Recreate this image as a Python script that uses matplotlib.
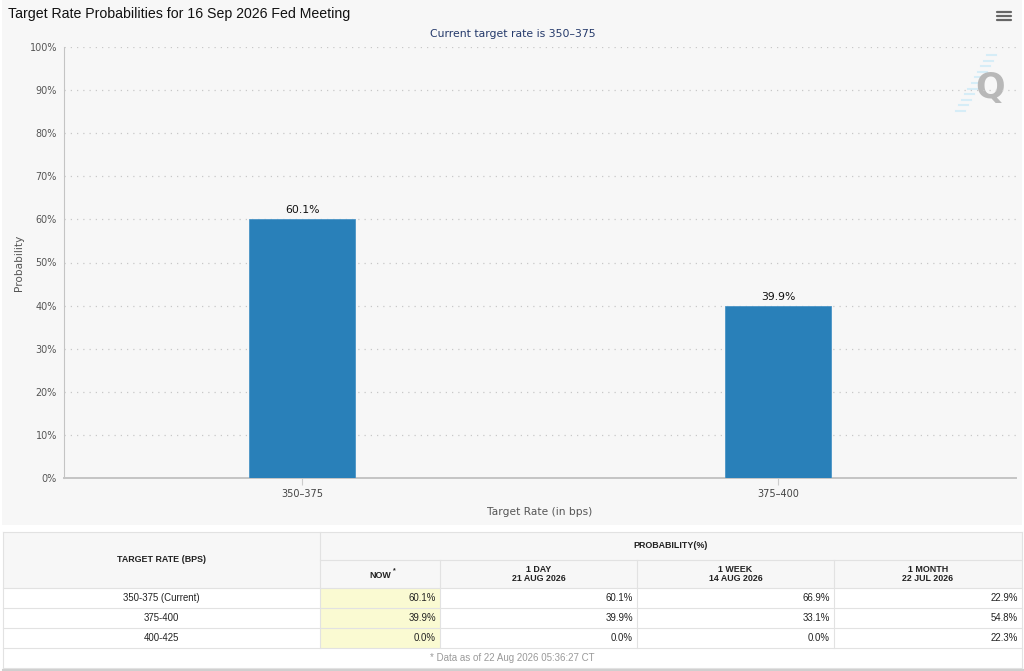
import matplotlib.pyplot as plt
from matplotlib.patches import Rectangle

plt.rcParams['font.family'] = ['DejaVu Sans']

title = "Target Rate Probabilities for 16 Sep 2026 Fed Meeting"
subtitle = "Current target rate is 350–375"
rates = ["350–375", "375–400"]
probs = [60.1, 39.9]
yticks = list(range(0, 101, 10))

table_rates = ["350-375 (Current)", "375-400", "400-425"]
col_heads = ["1 DAY\n21 AUG 2026", "1 WEEK\n14 AUG 2026", "1 MONTH\n22 JUL 2026"]
now = [60.1, 39.9, 0.0]
day1 = [60.1, 39.9, 0.0]
week1 = [66.9, 33.1, 0.0]
month1 = [22.9, 54.8, 22.3]
footnote = "* Data as of 22 Aug 2026 05:36:27 CT"

W, H = 1024, 671
fig = plt.figure(figsize=(W / 100, H / 100), dpi=100)
fig.patch.set_facecolor("white")

# pixel-coordinate layer for the panel, header bits and the table
bg = fig.add_axes([0, 0, 1, 1], zorder=0)
bg.set_xlim(0, W)
bg.set_ylim(H, 0)
bg.axis("off")
bg.add_patch(Rectangle((2, 0), 1020, 525, color="#f7f7f7", lw=0))

bg.text(8, 14, title, fontsize=10.2, family="Liberation Sans", color="#111111", va="center")
bg.text(513, 34, subtitle, fontsize=7.8, color="#253a6b", ha="center", va="center")

# menu icon
for yy in (12, 16, 20):
    bg.plot([997, 1011], [yy, yy], color="#666666", lw=1.6, solid_capstyle="round")

# watermark
for i in range(11):
    yy = 55 + i * 5.6
    xx = 996 - i * 3.1
    bg.plot([xx - 9, xx], [yy, yy], color="#d6edf7", lw=1.5)
bg.text(990, 88, "Q", fontsize=25, fontweight="bold", color="#b8b8b8", ha="center", va="center")

# chart
ax = fig.add_axes([64 / W, 1 - 478 / H, 952 / W, 431 / H], zorder=1)
ax.patch.set_alpha(0)
x = list(range(len(rates)))
bars = ax.bar(x, probs, width=0.222, color="#2980b9", edgecolor="#4a94c6", lw=0.6, zorder=3)
ax.bar_label(bars, labels=[f"{p}%" for p in probs], padding=3, fontsize=7.8, color="#111111")
ax.set_xlim(-0.5, len(rates) - 0.5)
ax.set_ylim(0, 100)
ax.set_xticks(x)
ax.set_xticklabels(rates)
ax.set_yticks(yticks)
ax.set_yticklabels([f"{v}%" for v in yticks])
ax.grid(axis="y", linestyle=(0, (1, 4)), color="#c8c8c8", lw=0.9)
ax.set_axisbelow(True)
for s in ("top", "right"):
    ax.spines[s].set_visible(False)
ax.spines["left"].set_color("#c4c4c4")
ax.spines["bottom"].set_color("#c4c4c4")
ax.spines["bottom"].set_linewidth(1.4)
ax.tick_params(axis="y", length=0, pad=5, labelsize=6.9, labelcolor="#555555")
ax.tick_params(axis="x", length=5, width=0.8, color="#cccccc", pad=3, labelsize=7.0, labelcolor="#444444")
ax.set_xlabel("Target Rate (in bps)", fontsize=7.7, color="#555555", labelpad=6)
ax.set_ylabel("Probability", fontsize=7.6, color="#555555", labelpad=4)

# table
xs = [3, 320, 440, 637, 834, 1022]
y_top, y_mid, y_head = 532, 560, 588
row_h = 20
y_foot = y_head + row_h * len(table_rates)
y_end = y_foot + 20
line_c = "#e2e2e2"

bg.add_patch(Rectangle((xs[0], y_top), xs[-1] - xs[0], y_head - y_top, color="#f7f7f7", lw=0))
bg.add_patch(Rectangle((xs[1], y_head), xs[2] - xs[1], y_foot - y_head, color="#fafad2", lw=0))
bg.plot([xs[0], xs[-1]], [y_end + 1.5, y_end + 1.5], color="#cfcfcf", lw=2.2)

for yy in [y_top, y_head] + [y_head + row_h * (i + 1) for i in range(len(table_rates))] + [y_end]:
    bg.plot([xs[0], xs[-1]], [yy, yy], color=line_c, lw=0.8)
bg.plot([xs[1], xs[-1]], [y_mid, y_mid], color=line_c, lw=0.8)
for xx in (xs[0], xs[-1]):
    bg.plot([xx, xx], [y_top, y_end], color=line_c, lw=0.8)
bg.plot([xs[1], xs[1]], [y_top, y_foot], color=line_c, lw=0.8)
for xx in xs[2:-1]:
    bg.plot([xx, xx], [y_mid, y_foot], color=line_c, lw=0.8)

hfont = dict(family="Liberation Sans", fontweight="bold", fontsize=6.4, color="#222222",
             ha="center", va="center", linespacing=1.1)
bg.text((xs[0] + xs[1]) / 2, y_head - 28, "TARGET RATE (BPS)", **hfont)
bg.text((xs[1] + xs[-1]) / 2, y_top + 14, "PROBABILITY(%)", **hfont)
bg.text((xs[1] + xs[2]) / 2, y_mid + 15, "NOW", **hfont)
bg.text((xs[1] + xs[2]) / 2 + 14, y_mid + 11, "*", **dict(hfont, fontsize=5))
for i, head in enumerate(col_heads):
    bg.text((xs[i + 2] + xs[i + 3]) / 2, y_mid + 14, head, **hfont)

dfont = dict(family="Liberation Sans", fontsize=6.9, color="#222222", va="center")
cols = [now, day1, week1, month1]
for r, name in enumerate(table_rates):
    yy = y_head + row_h * r + row_h / 2
    bg.text((xs[0] + xs[1]) / 2, yy, name, ha="center", **dfont)
    for c, vals in enumerate(cols):
        bg.text(xs[c + 2] - 4, yy, f"{vals[r]:.1f}%", ha="right", **dfont)

bg.text((xs[0] + xs[-1]) / 2, y_foot + 10, footnote, family="Liberation Sans", fontsize=7.0,
        color="#9a9a9a", ha="center", va="center")

fig.savefig("out.png", dpi=100, facecolor=fig.get_facecolor())
